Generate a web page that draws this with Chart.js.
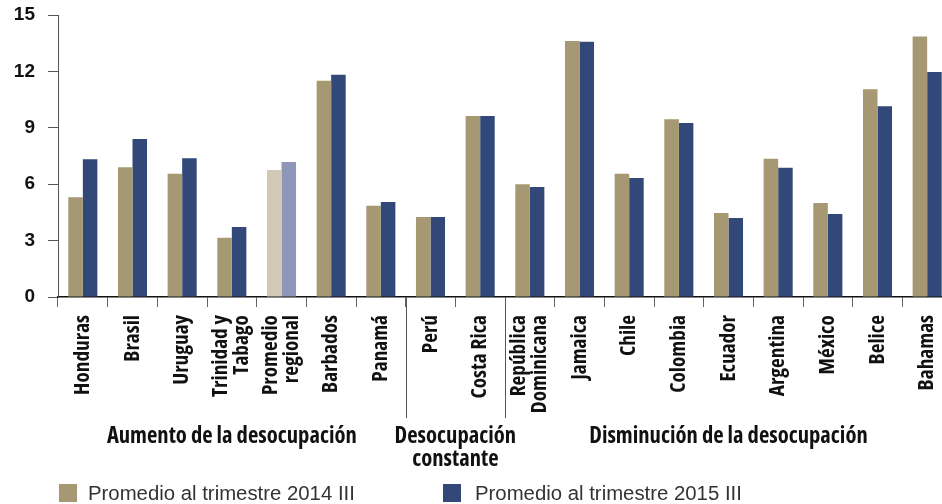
<!DOCTYPE html>
<html><head><meta charset="utf-8">
<script src="https://cdn.jsdelivr.net/npm/chart.js@4.4.0/dist/chart.umd.min.js"></script>
<style>
html,body{margin:0;padding:0;overflow:hidden;background:#fff;width:942px;height:504px}
#wrap{position:absolute;left:0;top:0;width:952px;height:504px}
</style></head><body>
<div id="wrap"><canvas id="c" width="952" height="504"></canvas></div>
<script>
const categories = [['Honduras'],['Brasil'],['Uruguay'],['Trinidad y','Tabago'],['Promedio','regional'],['Barbados'],['Panamá'],['Perú'],['Costa Rica'],['República','Dominicana'],['Jamaica'],['Chile'],['Colombia'],['Ecuador'],['Argentina'],['México'],['Belice'],['Bahamas']];
const series2014 = [5.3,6.9,6.55,3.15,6.75,11.5,4.85,4.25,9.63,6.0,13.62,6.55,9.45,4.47,7.35,5.0,11.05,13.85];
const series2015 = [7.33,8.4,7.38,3.72,7.18,11.82,5.05,4.25,9.63,5.85,13.58,6.33,9.25,4.2,6.87,4.42,10.15,11.97];
const seriesNames = ['Promedio al trimestre 2014 III','Promedio al trimestre 2015 III'];
const yTicks = [0,3,6,9,12,15];
const groupNames = [['Aumento de la desocupación'],['Desocupación','constante'],['Disminución de la desocupación']];
const groupStarts = [0,7,9];
const groupEnds = [6,8,17];
const highlightIndex = 4;

const COL14 = '#A59872', COL15 = '#314878', HL14 = '#D2C9B5', HL15 = '#8F97B8';
const SANS = "'Liberation Sans',Arial,sans-serif";

// pick an available condensed bold face
const mctx = document.createElement('canvas').getContext('2d');
function tw(font, text){ mctx.font = '10px serif'; mctx.font = font; return mctx.measureText(text).width; }
function pickCondensed(){
  const sample = 'Honduras desocupación';
  const cands = [
    {pre:'bold condensed', fam:"'Noto Sans'"},
    {pre:'bold', fam:"'Noto Sans Condensed'"},
    {pre:'bold', fam:"'Liberation Sans Narrow'"},
    {pre:'bold', fam:"'Arial Narrow'"},
    {pre:'bold condensed', fam:"'Open Sans'"},
    {pre:'bold', fam:"'DejaVu Sans Condensed'"},
    {pre:'bold', fam:"Roboto"},
    {pre:'bold', fam:"'Liberation Sans'"}
  ];
  const wm = tw('bold 100px monospace', sample);
  for (const c of cands){
    const wc = tw(`${c.pre} 100px ${c.fam}, monospace`, sample);
    if (wc < 500 || Math.abs(wc - wm) < 0.5) continue;
    if (c.pre.includes('condensed')) {
      const wn = tw(`bold 100px ${c.fam}, monospace`, sample);
      if (wc > wn * 0.93) continue;
    }
    return c;
  }
  return {pre:'bold', fam:"'Liberation Sans'"};
}
const COND = pickCondensed();
const condFont = s => `${COND.pre} ${s}px ${COND.fam}, sans-serif`;
const perPx = t => tw(`${COND.pre} 100px ${COND.fam}, sans-serif`, t) / 100;
const LABEL_SIZE = Math.min(23, 80 / perPx('Honduras'));
const TITLE_SIZE = Math.min(23, 250 / perPx('Aumento de la desocupación'));
const LINE_PX = 21;
const LEGEND_SIZE = 267 / (tw('100px ' + SANS, seriesNames[0]) / 100);

const extras = {
  id:'extras',
  beforeDraw(chart){
    const items = chart.scales.x.getLabelItems();
    items.forEach(it=>{
      if (it._shifted) return;
      const n = Array.isArray(it.label) ? it.label.length : 1;
      if (n > 1) it.options.translation[0] -= (n-1)*LINE_PX/2;
      it._shifted = true;
    });
  },
  afterDraw(chart){
    const ctx = chart.ctx, s = chart.scales.x, a = chart.chartArea;
    ctx.save();
    ctx.strokeStyle = '#555'; ctx.lineWidth = 1;
    for (let g = 1; g < groupStarts.length; g++){
      const x = Math.round((s.getPixelForValue(groupStarts[g]-1) + s.getPixelForValue(groupStarts[g]))/2) + 0.5;
      ctx.beginPath(); ctx.moveTo(x, a.bottom); ctx.lineTo(x, 418); ctx.stroke();
    }
    ctx.fillStyle = '#111';
    ctx.font = condFont(TITLE_SIZE);
    ctx.textAlign = 'center'; ctx.textBaseline = 'middle';
    groupNames.forEach((lines, g)=>{
      const x = (s.getPixelForValue(groupStarts[g]) + s.getPixelForValue(groupEnds[g]))/2;
      lines.forEach((t,i)=> ctx.fillText(t, x, 437 + i*23));
    });
    const lx = [59, 443], tx = [88, 475];
    ctx.font = LEGEND_SIZE + 'px ' + SANS; ctx.textAlign = 'left';
    chart.data.datasets.forEach((d,i)=>{
      ctx.fillStyle = d.legendColor; ctx.fillRect(lx[i], 484, 18, 18);
      ctx.fillStyle = '#333'; ctx.fillText(d.label, tx[i], 494);
    });
    ctx.restore();
  }
};

new Chart(document.getElementById('c'), {
  type:'bar',
  data:{
    labels: categories,
    datasets:[
      {label: seriesNames[0], data: series2014, legendColor: COL14,
       backgroundColor: categories.map((c,i)=> i===highlightIndex ? HL14 : COL14)},
      {label: seriesNames[1], data: series2015, legendColor: COL15,
       backgroundColor: categories.map((c,i)=> i===highlightIndex ? HL15 : COL15)}
    ]
  },
  options:{
    responsive:false, animation:false, devicePixelRatio:1,
    barPercentage:1, categoryPercentage:0.585,
    layout:{padding:{top:15,left:0,right:0,bottom:87}},
    plugins:{legend:{display:false}, tooltip:{enabled:false}},
    scales:{
      x:{
        offset:true,
        grid:{offset:true, drawOnChartArea:false, drawTicks:true, tickLength:10, color:'#666', lineWidth:1},
        border:{display:true, color:'#111', width:1.5},
        ticks:{autoSkip:false, maxRotation:90, minRotation:90, padding:8, color:'#111',
               font:{family:COND.fam + ', sans-serif', size:LABEL_SIZE, weight:COND.pre, lineHeight: LINE_PX + 'px'}},
        afterFit(sc){ sc.height = 120; sc.paddingLeft = 0; sc.paddingRight = 0; }
      },
      y:{
        min:0, max:15,
        afterBuildTicks(sc){ sc.ticks = yTicks.map(v=>({value:v})); },
        grid:{drawOnChartArea:false, drawTicks:true, tickLength:10, color:'#555'},
        border:{display:true, color:'#555', width:1},
        ticks:{padding:13, color:'#111', font:{family:SANS, size:19, weight:'bold'}},
        afterFit(sc){ sc.width = 58; sc.paddingTop = 0; sc.paddingBottom = 0; }
      }
    }
  },
  plugins:[extras]
});
</script>
</body></html>
